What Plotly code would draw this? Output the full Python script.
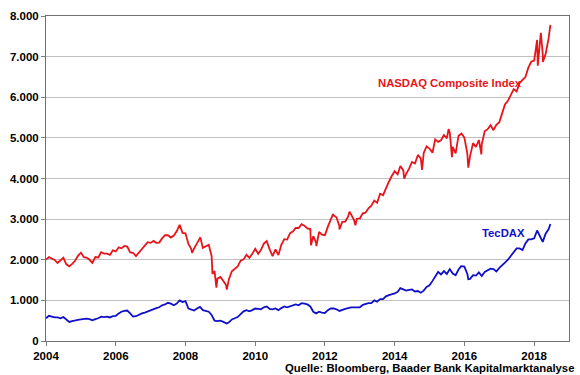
import pandas as pd
import plotly.graph_objects as go

# Monthly levels (start of month), Jan 2004 .. Jun 2018
nasdaq_monthly = [
    2003, 2066, 2030, 1994, 1920, 1987, 2048, 1887, 1838, 1897, 1975, 2096,
    2175, 2062, 2052, 1999, 1922, 2068, 2057, 2185, 2152, 2152, 2120, 2233,
    2205, 2306, 2281, 2340, 2323, 2179, 2172, 2091, 2184, 2258, 2367, 2432,
    2415, 2464, 2416, 2422, 2525, 2605, 2603, 2546, 2596, 2701, 2859, 2661,
    2652, 2389, 2271, 2279, 2413, 2523, 2293, 2326, 2368, 2092, 1721, 1536,
    1577, 1476, 1378, 1529, 1717, 1774, 1835, 1979, 2009, 2122, 2045, 2145,
    2269, 2147, 2238, 2398, 2461, 2257, 2109, 2255, 2114, 2369, 2507, 2498,
    2653, 2700, 2782, 2781, 2874, 2835, 2774, 2756, 2579, 2415, 2684, 2620,
    2605, 2814, 2967, 3092, 3046, 2827, 2935, 2940, 3067, 3116, 2977, 3010,
    3020, 3142, 3160, 3268, 3329, 3456, 3403, 3626, 3590, 3771, 3920, 4060,
    4177, 4104, 4308, 4199, 4115, 4243, 4408, 4370, 4580, 4493, 4631, 4792,
    4736, 4635, 4964, 4901, 4941, 5070, 4987, 5128, 4777, 4620, 5054, 5109,
    5007, 4614, 4558, 4870, 4775, 4948, 4843, 5162, 5213, 5312, 5189, 5324,
    5383, 5615, 5825, 5912, 6048, 6199, 6140, 6348, 6429, 6496, 6728, 6874,
    6903, 7411, 7273, 7063, 7066, 7442,
]
tecdax_monthly = [
    560, 620, 600, 580, 580, 560, 590, 520, 470, 490, 510, 520,
    530, 540, 550, 540, 510, 540, 560, 600, 590, 600, 580, 610,
    620, 680, 720, 740, 750, 680, 600, 610, 650, 680, 700, 730,
    760, 800, 810, 830, 880, 900, 940, 920, 880, 920, 1000, 960,
    980, 800, 780, 750, 800, 840, 760, 740, 720, 640, 500, 490,
    500, 470, 440, 460, 530, 560, 590, 660, 730, 760, 730, 760,
    800, 790, 780, 830, 850, 790, 780, 800, 760, 810, 850, 830,
    850, 880, 900, 880, 930, 920, 900, 850, 720, 680, 720, 700,
    690, 760, 800, 800, 780, 740, 770, 790, 810, 830, 830, 830,
    830, 890, 910, 930, 930, 1000, 970, 1030, 1030, 1100, 1130, 1150,
    1170, 1210, 1300, 1270, 1240, 1260, 1270, 1220, 1230, 1190, 1240, 1330,
    1370, 1480, 1600, 1700, 1640, 1720, 1650, 1770, 1660, 1620, 1760, 1850,
    1830, 1650, 1530, 1620, 1610, 1690, 1600, 1700, 1740, 1780, 1770, 1710,
    1800, 1860, 1930, 2000, 2100, 2200, 2280, 2280, 2240, 2400, 2500, 2500,
    2530, 2720, 2570, 2440, 2640, 2750,
]
months = pd.date_range("2004-01-01", periods=len(nasdaq_monthly), freq="MS")

# Intra-month extremes visible in the chart
nasdaq_extra_dates = [
    "2008-03-10", "2008-06-05", "2008-10-10", "2008-11-20", "2009-03-09",
    "2010-07-02", "2011-08-08", "2011-10-03", "2012-03-26", "2012-06-01",
    "2012-09-14", "2012-11-15", "2014-04-11", "2014-10-15", "2015-07-20",
    "2015-08-24", "2016-02-11", "2016-06-27", "2018-02-08", "2018-03-12",
    "2018-04-02", "2018-06-20",
]
nasdaq_extra_values = [
    2169, 2550, 1650, 1316, 1268,
    2091, 2358, 2335, 3122, 2747,
    3183, 2846, 3999, 4215, 5219,
    4526, 4266, 4594, 6777, 7588,
    6870, 7781,
]
tecdax_extra_dates = ["2009-03-09", "2015-12-02", "2016-02-11", "2018-06-20"]
tecdax_extra_values = [430, 1840, 1520, 2880]

tick_years = [2004, 2006, 2008, 2010, 2012, 2014, 2016, 2018]
y_ticks = [0, 1000, 2000, 3000, 4000, 5000, 6000, 7000, 8000]


def merge(dates, values, extra_dates, extra_values):
    s = pd.Series(list(values), index=list(dates))
    e = pd.Series(list(extra_values), index=pd.to_datetime(extra_dates))
    s = pd.concat([s, e]).sort_index()
    return s.index, s.values


nx, ny = merge(months, nasdaq_monthly, nasdaq_extra_dates, nasdaq_extra_values)
tx, ty = merge(months, tecdax_monthly, tecdax_extra_dates, tecdax_extra_values)

fig = go.Figure()
fig.add_trace(go.Scatter(x=nx, y=ny, mode="lines",
                         line=dict(color="#e8141b", width=1.8),
                         name="NASDAQ Composite Index"))
fig.add_trace(go.Scatter(x=tx, y=ty, mode="lines",
                         line=dict(color="#1010c8", width=1.8),
                         name="TecDAX"))

font_main = "Liberation Sans, Arial, sans-serif"
tick_font = dict(family=font_main, size=11.5, color="black", weight="bold")

fig.update_layout(
    width=580, height=375,
    margin=dict(l=42, r=10, t=10, b=34),
    paper_bgcolor="white", plot_bgcolor="white",
    showlegend=False,
    separators=",.",
    font=dict(family=font_main, size=11, color="black"),
    xaxis=dict(
        type="date",
        range=["2004-01-01", "2019-01-01"],
        tickvals=[f"{y}-01-01" for y in tick_years],
        ticktext=[str(y) for y in tick_years],
        showgrid=False,
        showline=True, linecolor="#707070", linewidth=1, mirror=True,
        ticks="outside", ticklen=4, tickcolor="#808080",
        tickfont=tick_font,
        zeroline=False,
    ),
    yaxis=dict(
        range=[0, 8000],
        tickvals=y_ticks,
        tickformat=",.0f",
        showgrid=True, gridcolor="#c0c0c0", gridwidth=1,
        showline=True, linecolor="#707070", linewidth=1, mirror=True,
        ticks="outside", ticklen=4, tickcolor="#808080",
        tickfont=tick_font,
        zeroline=False,
    ),
    annotations=[
        dict(x="2015-08-01", y=6340, xref="x", yref="y",
             text="NASDAQ Composite Index", showarrow=False,
             font=dict(family=font_main, size=11.3, color="#e8141b", weight="bold")),
        dict(x="2017-02-10", y=2650, xref="x", yref="y",
             text="TecDAX", showarrow=False,
             font=dict(family=font_main, size=11.3, color="#1010c8", weight="bold")),
        dict(x=1.013, y=-0.082, xref="paper", yref="paper",
             xanchor="right", yanchor="middle",
             text="Quelle: Bloomberg, Baader Bank Kapitalmarktanalyse",
             showarrow=False,
             font=dict(family=font_main, size=11.3, color="black", weight="bold")),
    ],
)

fig.write_html("out.html",
               config={"displayModeBar": False},
               post_script="document.body.style.margin='0';document.body.style.overflow='hidden';")
